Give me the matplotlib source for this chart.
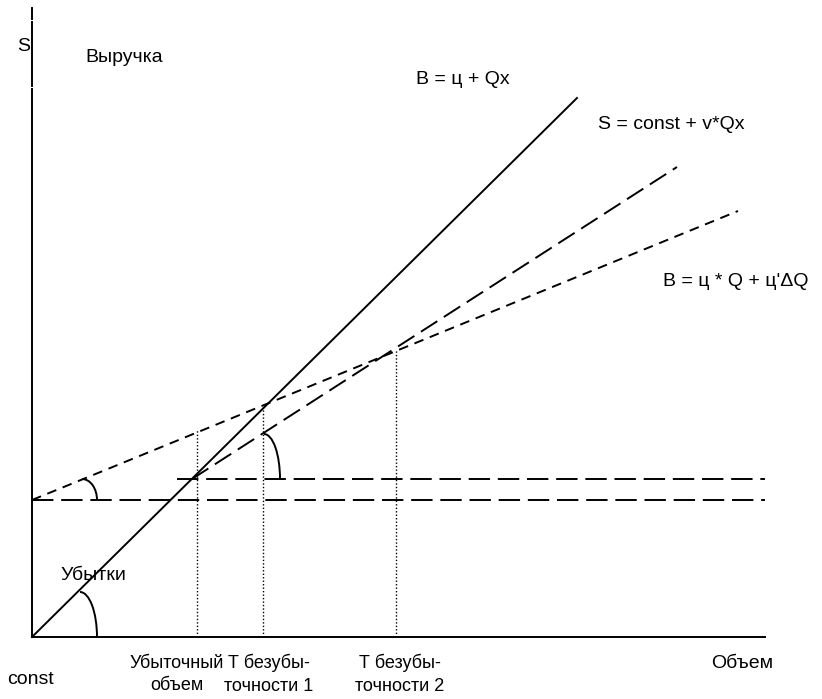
import matplotlib
matplotlib.use('Agg')
import matplotlib.pyplot as plt
from matplotlib.patches import Arc

plt.rcParams['font.family'] = ['Liberation Sans', 'DejaVu Sans']

# diagram units: 1 unit = 100 px, origin at the axes crossing
# revenue line  В = ц + Qx
rev_x = [0.0, 5.45]
rev_y = [0.0, 5.39]
# cost line  S = const + v*Qx
cost_x = [1.60, 6.45]
cost_y = [1.58, 4.70]
# revenue with discount  В = ц*Q + ц'ΔQ
rev2_x = [0.0, 7.06]
rev2_y = [1.37, 4.26]
# fixed costs levels
const_level = 1.37
const_x = [0.0, 7.33]
const2_level = 1.58
const2_x = [1.45, 7.33]
# break-even / loss volumes (vertical dotted)
marks_x = [1.65, 2.31, 3.64]
marks_top = [2.07, 2.31, 2.88]
mark_labels = ['Убыточный\nобъем', 'Т безубы-\nточности 1', 'Т безубы-\nточности 2']
label_x = [1.45, 2.37, 3.68]

fig = plt.figure(figsize=(8.22, 6.99), dpi=100)
ax = fig.add_axes([0, 0, 1, 1])
ax.set_xlim(-0.32, 7.90)
ax.set_ylim(-0.62, 6.37)
ax.axis('off')

lw = 1.4
# axes
ax.plot([0, 7.33], [0, 0], color='black', lw=lw)
for y0, y1 in [(0, 5.485), (5.515, 6.155), (6.185, 6.29)]:
    ax.plot([0, 0], [y0, y1], color='black', lw=lw)

ax.plot(rev_x, rev_y, color='black', lw=lw)
ax.plot(cost_x, cost_y, color='black', lw=lw, linestyle=(0, (10, 4)))
ax.plot(rev2_x, rev2_y, color='black', lw=lw, linestyle=(0, (5, 3.5)))
ax.plot(const_x, [const_level] * 2, color='black', lw=lw, linestyle=(0, (11, 4)))
ax.plot(const2_x, [const2_level] * 2, color='black', lw=lw, linestyle=(0, (11, 4)))

for mx, mt in zip(marks_x, marks_top):
    ax.plot([mx, mx], [0, mt], color='black', lw=1.0, linestyle=(0, (1, 1.5)))

# angle arcs
ax.add_patch(Arc((0.48, 0.0), 0.34, 0.90, theta1=0, theta2=90, color='black', lw=lw))
ax.add_patch(Arc((0.50, const_level), 0.30, 0.42, theta1=0, theta2=90, color='black', lw=lw))
ax.add_patch(Arc((2.32, const2_level), 0.32, 0.90, theta1=0, theta2=90, color='black', lw=lw))

fs = 14
ax.text(-0.08, 5.91, 'S', fontsize=fs, ha='center', va='center')
ax.text(0.53, 5.80, 'Выручка', fontsize=fs, ha='left', va='center')
ax.text(3.84, 5.57, 'В = ц + Qx', fontsize=fs, ha='left', va='center')
ax.text(5.66, 5.13, 'S = const + v*Qx', fontsize=fs, ha='left', va='center')
ax.text(6.31, 3.56, "В = ц * Q + ц'ΔQ", fontsize=fs, ha='left', va='center')
ax.text(0.28, 0.61, 'Убытки', fontsize=fs, ha='left', va='center')
ax.text(-0.02, -0.42, 'const', fontsize=fs, ha='center', va='center')
ax.text(7.10, -0.26, 'Объем', fontsize=fs, ha='center', va='center')
for lx, lab in zip(label_x, mark_labels):
    ax.text(lx, -0.375, lab, fontsize=13, ha='center', va='center', linespacing=1.45)

fig.savefig('out.png', dpi=100)
